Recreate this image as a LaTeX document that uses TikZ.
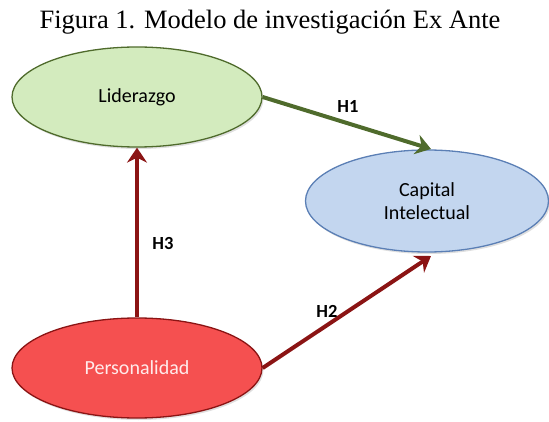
\documentclass[tikz,border=0pt]{standalone}
\usepackage{fontspec}
\setmainfont{Liberation Serif}
\newfontfamily\carlitofont{Carlito}
\usetikzlibrary{shapes.geometric,arrows.meta,shadows}
\definecolor{lgreen}{HTML}{D3EBBE}
\definecolor{dgreen}{HTML}{4F6B2C}
\definecolor{lblue}{HTML}{C3D6EF}
\definecolor{dblue}{HTML}{5B7FB5}
\definecolor{lred}{HTML}{F55050}
\definecolor{dred}{HTML}{8B1414}
\tikzset{
  blob/.style={ellipse, minimum width=250pt, minimum height=100pt, line width=1.3pt, font=\carlitofont\fontsize{20}{23}\selectfont, align=center, inner sep=0pt, drop shadow={shadow xshift=1.5pt, shadow yshift=-2pt, opacity=0.25}},
  conn/.style={line width=4pt, -{Stealth[length=15pt,width=20pt,inset=5pt]}},
  lab/.style={font=\carlitofont\bfseries\fontsize{18.5}{20}\selectfont}
}
\begin{document}
\begin{tikzpicture}[x=1pt,y=-1pt]
\useasboundingbox (0,0) rectangle (549,422);
\node (title) at (270,22) {\fontsize{26.5}{30}\selectfont Figura 1. Modelo de investigación Ex Ante};
\node[blob, fill=lgreen, draw=dgreen] (lid) at (137,97) {Liderazgo};
\node[blob, fill=lblue, draw=dblue, minimum width=243pt, minimum height=102pt] (cap) at (427,201) {Capital\\Intelectual};
\node[blob, fill=lred, draw=dred, text=white!92!red] (per) at (137,368) {Personalidad};
\coordinate (h1e) at (431,149);
\coordinate (h2e) at (431,256);
\draw[conn, draw=dgreen] (lid.east) -- (h1e);
\draw[conn, draw=dred] (per.north) -- (lid.south);
\draw[conn, draw=dred] (per.east) -- (h2e);
\node[lab] (l1) at (348,106) {H1};
\node[lab] (l3) at (163,243) {H3};
\node[lab] (l2) at (327,311) {H2};
\end{tikzpicture}
\end{document}
